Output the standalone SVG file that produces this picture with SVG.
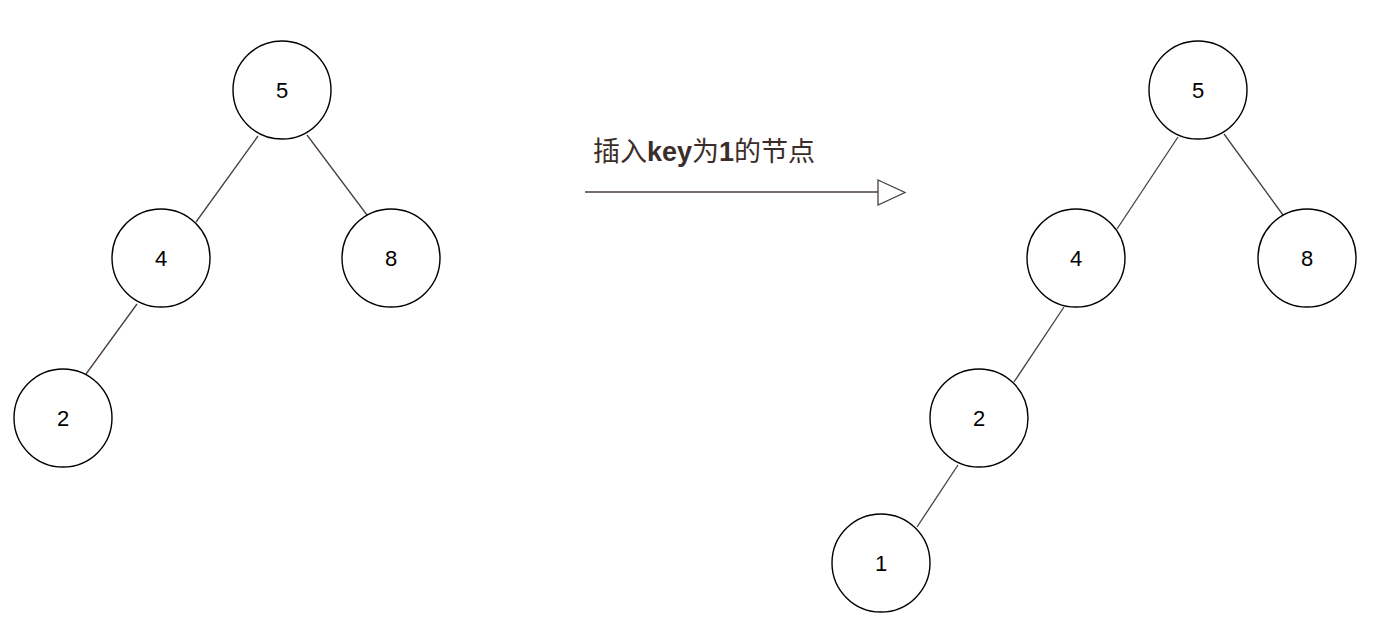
<svg xmlns="http://www.w3.org/2000/svg" width="1373" height="629" viewBox="0 0 1373 629">
<style>
.n circle{fill:#ffffff;stroke:#000000;stroke-width:1.4}
.n text{font-family:"Liberation Sans",Arial,sans-serif;font-size:22px;fill:#000000;text-anchor:middle}
.e line{stroke:#4a3d3a;stroke-width:1.3}
.lbl{font-family:"Liberation Sans","Noto Sans CJK SC",sans-serif;font-size:27px;fill:#3b2d2a}
</style>
<rect width="1373" height="629" fill="#ffffff"/>
<g id="connectors" class="e">
<line x1="258" y1="136" x2="196" y2="222"/>
<line x1="307" y1="135" x2="367" y2="215"/>
<line x1="137" y1="304" x2="86" y2="374"/>
<line x1="1178" y1="137" x2="1117" y2="229"/>
<line x1="1224" y1="134" x2="1283" y2="215"/>
<line x1="1064" y1="307" x2="1014" y2="382"/>
<line x1="958" y1="465" x2="917" y2="527"/>
<line x1="585" y1="192" x2="878" y2="192"/>
<polygon points="878,180 905,192.5 878,205" fill="#ffffff" stroke="#4a3d3a" stroke-width="1.3"/>
</g>
<g id="label"><text class="lbl" x="593" y="161">插入<tspan font-weight="bold">key</tspan>为<tspan font-weight="bold">1</tspan>的节点</text></g>
<g id="L5" class="n"><circle cx="282" cy="90" r="49"/><text x="282" y="98">5</text></g>
<g id="L4" class="n"><circle cx="161" cy="258" r="49"/><text x="161" y="266">4</text></g>
<g id="L8" class="n"><circle cx="391" cy="258" r="49"/><text x="391" y="266">8</text></g>
<g id="L2" class="n"><circle cx="63" cy="418" r="49"/><text x="63" y="426">2</text></g>
<g id="R5" class="n"><circle cx="1198" cy="90" r="49"/><text x="1198" y="98">5</text></g>
<g id="R4" class="n"><circle cx="1076" cy="258" r="49"/><text x="1076" y="266">4</text></g>
<g id="R8" class="n"><circle cx="1307" cy="258" r="49"/><text x="1307" y="266">8</text></g>
<g id="R2" class="n"><circle cx="979" cy="418" r="49"/><text x="979" y="426">2</text></g>
<g id="R1" class="n"><circle cx="881" cy="563" r="49"/><text x="881" y="571">1</text></g>
</svg>
